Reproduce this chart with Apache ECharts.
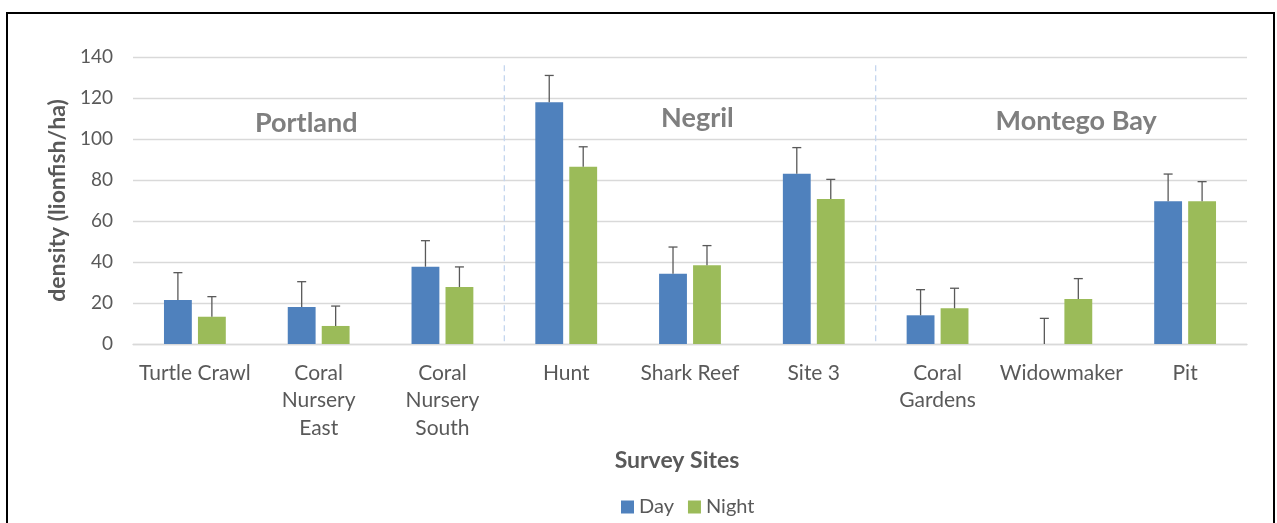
<!DOCTYPE html>
<html>
<head>
<meta charset="utf-8">
<script src="https://cdn.jsdelivr.net/npm/echarts@6/dist/echarts.min.js"></script>
<style>
html,body{margin:0;padding:0;background:#fff;}
#chart{width:1277px;height:523px;}
</style>
</head>
<body>
<div id="chart"></div>
<script>
const categories = ['Turtle Crawl','Coral\nNursery\nEast','Coral\nNursery\nSouth','Hunt','Shark Reef','Site 3','Coral\nGardens','Widowmaker','Pit'];
const dayValues   = [21.5, 18.0, 37.7, 117.9, 34.3, 83.1, 14.0, 0.0, 69.6];
const dayErrors   = [13.3, 12.4, 12.7, 13.1, 13.0, 12.7, 12.5, 12.5, 13.3];
const nightValues = [13.3, 8.8, 27.8, 86.5, 38.4, 70.7, 17.4, 22.0, 69.6];
const nightErrors = [9.8, 9.7, 9.8, 9.7, 9.6, 9.6, 9.8, 9.9, 9.6];
const groupNames  = ['Portland', 'Negril', 'Montego Bay'];
const groupStart  = [0, 3, 6];
const groupEnd    = [2, 5, 8];
const yTicks = {min: 0, max: 140, interval: 20};

// layout only: where each group title sits (category-index units, value units)
const GROUP_LABEL_X = [0.9, 4.06, 7.12];
const GROUP_LABEL_Y = [107.8, 110.2, 108.8];
const BAR_W = 0.225, BAR_GAP = 0.22;
const FONT = 'Lato, "Open Sans", sans-serif';

function errRender(sign) {
  return function (params, api) {
    const i = api.value(0), v = api.value(1), e = api.value(2);
    const band = api.size([1, 0])[0];
    const w = band * BAR_W;
    const off = (w + w * BAR_GAP) / 2 * sign;
    const base = api.coord([i, v]);
    const top = api.coord([i, v + e]);
    const x = base[0] + off;
    const st = {stroke: '#595959', lineWidth: 1.3};
    return {type: 'group', children: [
      {type: 'line', shape: {x1: x, y1: base[1], x2: x, y2: top[1]}, style: st},
      {type: 'line', shape: {x1: x - 4.5, y1: top[1], x2: x + 4.5, y2: top[1]}, style: st}
    ]};
  };
}

function groupRender(params, api) {
  const from = api.value(0);
  const idx = params.dataIndex;
  const name = groupNames[idx];
  const band = api.size([1, 0])[0];
  const a = api.coord([from, 0]);
  const children = [];
  if (from > 0) {
    const x = a[0] - band / 2;
    const yTop = api.coord([from, 136])[1];
    children.push({type: 'line', shape: {x1: x, y1: yTop, x2: x, y2: a[1]},
      style: {stroke: '#c5d6ee', lineWidth: 1.3, lineDash: [6, 4]}});
  }
  const lx0 = api.coord([Math.floor(GROUP_LABEL_X[idx]), 0])[0];
  const lx = lx0 + (GROUP_LABEL_X[idx] - Math.floor(GROUP_LABEL_X[idx])) * band;
  children.push({type: 'text', x: lx, y: api.coord([from, GROUP_LABEL_Y[idx]])[1],
    style: {text: name, fill: '#7f7f7f', font: 'bold 27px ' + FONT, align: 'center', verticalAlign: 'middle'}});
  return {type: 'group', children: children};
}

const chart = echarts.init(document.getElementById('chart'), null, {renderer: 'canvas'});
chart.setOption({
  animation: false,
  backgroundColor: '#fff',
  textStyle: {fontFamily: FONT},
  graphic: [{type: 'rect', shape: {x: 7, y: 13, width: 1267, height: 520},
    style: {fill: 'none', stroke: '#000', lineWidth: 2}, z: 100}],
  grid: {left: 133, right: 30, top: 57, bottom: 179},
  legend: {data: ['Day', 'Night'], left: 616, top: 492, itemWidth: 13, itemHeight: 13, itemGap: 14,
    icon: 'rect', textStyle: {fontSize: 20, color: '#595959', fontFamily: FONT}},
  xAxis: {type: 'category', data: categories,
    name: 'Survey Sites', nameLocation: 'middle', nameGap: 105,
    nameTextStyle: {fontSize: 23, fontWeight: 'bold', color: '#595959', fontFamily: FONT, padding: [0, 26, 0, 0]},
    axisTick: {show: false}, axisLine: {lineStyle: {color: '#d9d9d9', width: 1.3}},
    axisLabel: {interval: 0, color: '#595959', fontSize: 21, lineHeight: 27.5, margin: 15, fontFamily: FONT}},
  yAxis: {type: 'value', min: yTicks.min, max: yTicks.max, interval: yTicks.interval,
    name: 'density (lionfish/ha)', nameLocation: 'middle', nameGap: 63, nameRotate: 90,
    nameTextStyle: {fontSize: 23, fontWeight: 'bold', color: '#595959', fontFamily: FONT},
    axisLine: {show: false}, axisTick: {show: false},
    axisLabel: {color: '#595959', fontSize: 19, margin: 20, fontFamily: FONT},
    splitLine: {lineStyle: {color: '#d9d9d9', width: 1.3}}},
  series: [
    {name: 'Day', type: 'bar', data: dayValues, barWidth: (BAR_W * 100) + '%', barGap: (BAR_GAP * 100) + '%',
      itemStyle: {color: '#4f81bd'}},
    {name: 'Night', type: 'bar', data: nightValues, barWidth: (BAR_W * 100) + '%', barGap: (BAR_GAP * 100) + '%',
      itemStyle: {color: '#9bbb59'}},
    {name: 'Day error', type: 'custom', renderItem: errRender(-1), z: 5,
      data: dayValues.map((v, i) => [i, v, dayErrors[i]])},
    {name: 'Night error', type: 'custom', renderItem: errRender(1), z: 5,
      data: nightValues.map((v, i) => [i, v, nightErrors[i]])},
    {name: 'Groups', type: 'custom', renderItem: groupRender, z: 4, silent: true,
      data: groupStart.map((s, i) => [s, groupEnd[i]])}
  ]
});
</script>
</body>
</html>
